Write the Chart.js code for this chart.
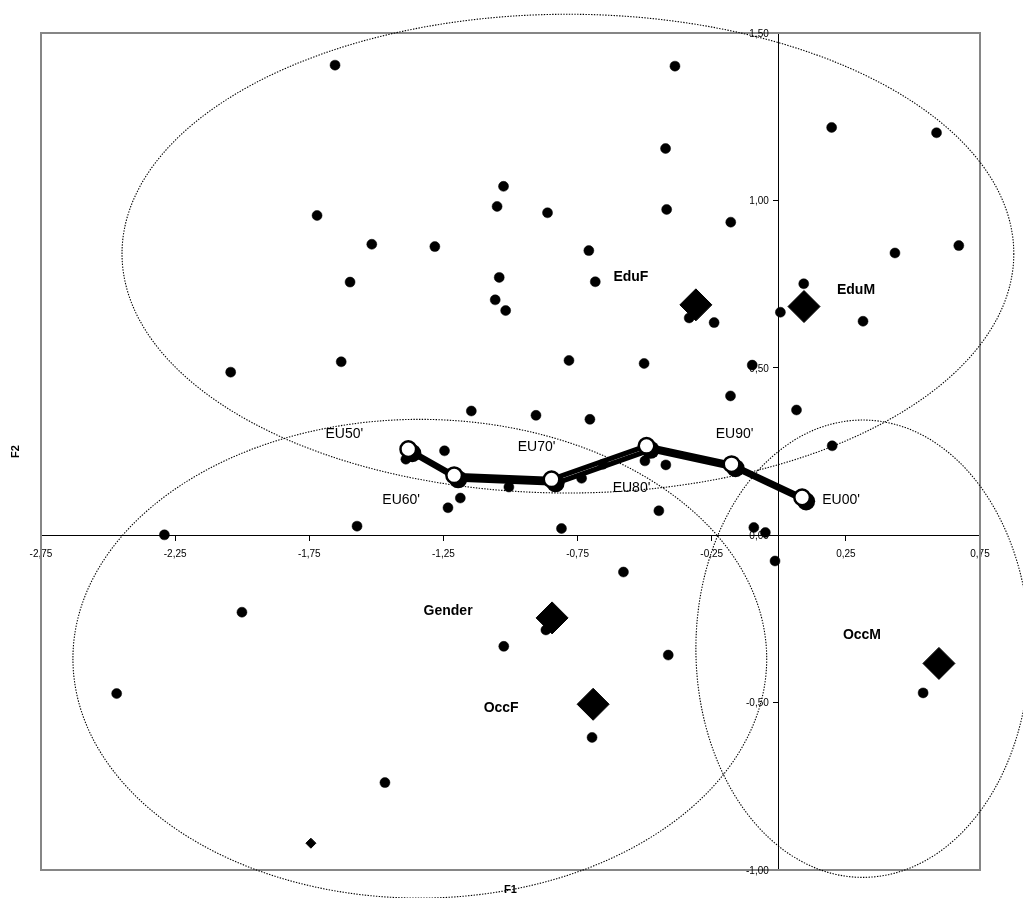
<!DOCTYPE html>
<html><head><meta charset="utf-8">
<script src="https://cdn.jsdelivr.net/npm/chart.js@4.4.0/dist/chart.umd.min.js"></script>
<style>html,body{margin:0;padding:0;background:#fff;overflow:hidden}canvas{display:block}</style>
</head><body>
<canvas id="c" width="1023" height="898"></canvas>
<script>
// ---- tick values ----
const xTicks = [-2.75, -2.25, -1.75, -1.25, -0.75, -0.25, 0.25, 0.75];
const yTicks = [-1.00, -0.50, 0.00, 0.50, 1.00, 1.50];
const xTitle = 'F1';
const yTitle = 'F2';

// ---- small points (individual observations) ----
const dotX = [-1.654,-1.026,-1.050,-1.721,-1.517,-1.282,-1.598,-1.042,-0.387,-0.422,
              -0.862,-0.418,-0.179,-0.708,-0.684, 0.197, 0.588, 0.433, 0.671, 0.093,
              -1.018,-1.057,-0.334,-0.241, 0.006, 0.314,-0.782,-0.502,-0.099,-0.180,
               0.066,-0.905,-0.704, 0.199,-0.499,-0.421,-0.655,-0.735,-1.006,-0.447,
              -0.810,-0.093,-0.050,-1.631,-2.043,-1.146,-1.246,-1.390,-1.187,-1.233,
              -1.572,-2.290,-2.001,-1.025,-2.468,-1.468,-0.579,-0.014,-0.868,-0.412,
              -0.696, 0.538];
const dotY = [ 1.404, 1.042, 0.982, 0.955, 0.869, 0.862, 0.756, 0.770, 1.401, 1.155,
               0.963, 0.973, 0.935, 0.850, 0.757, 1.218, 1.202, 0.843, 0.865, 0.751,
               0.671, 0.703, 0.649, 0.635, 0.666, 0.639, 0.522, 0.513, 0.508, 0.416,
               0.374, 0.358, 0.346, 0.267, 0.222, 0.210, 0.212, 0.170, 0.144, 0.073,
               0.020, 0.023, 0.008, 0.518, 0.487, 0.371, 0.252, 0.227, 0.111, 0.082,
               0.027, 0.001,-0.230,-0.332,-0.473,-0.739,-0.110,-0.077,-0.283,-0.358,
              -0.604,-0.471];

// ---- small diamond ----
const smallDiamondX = [-1.744];
const smallDiamondY = [-0.920];

// ---- EU path ----
const pathLabels = ["EU50'", "EU60'", "EU70'", "EU80'", "EU90'", "EU00'"];
const pathX = [-1.381, -1.210, -0.847, -0.493, -0.176, 0.087];
const pathY = [ 0.257,  0.179,  0.167,  0.267,  0.212, 0.113];

// ---- category centroids ----
const catLabels = ['EduF', 'EduM', 'Gender', 'OccF', 'OccM'];
const catX = [-0.309, 0.094, -0.845, -0.692, 0.597];
const catY = [ 0.688, 0.683, -0.247, -0.505, -0.383];

// ---- confidence ellipses (data units) ----
const ellCX = [-0.786, -1.338, 0.313];
const ellCY = [ 0.841, -0.369, -0.339];
const ellRX = [ 1.662,  1.293, 0.622];
const ellRY = [ 0.715,  0.715, 0.683];

// label placement (pixel offsets from the marker), style only
const pathLabelOffsets = [[-64,-15],[-53,25],[-15,-32],[-15,42],[3,-30],[39,3]];
const catLabelOffsets = [[-65,-28],[52,-16],[-104,-7],[-92,4],[-77,-28]];
const SHADOW_DX = 4, SHADOW_DY = 4;

const zip = (xs, ys) => xs.map((x, i) => ({x: x, y: ys[i]}));
const fmt = v => (Math.abs(v) < 1e-9 ? 0 : v).toFixed(2).replace('.', ',');

Chart.defaults.font.family = "'Liberation Sans', Arial, sans-serif";
Chart.defaults.color = '#000';

const framePlugin = {
  id: 'frame',
  beforeDatasetsDraw(chart) {
    const {ctx, chartArea: a, scales: {x, y}} = chart;
    ctx.save();
    ctx.strokeStyle = '#868686';
    ctx.lineWidth = 2;
    ctx.strokeRect(a.left, a.top, a.right - a.left, a.bottom - a.top);
    // y tick labels (left of the crossing axis)
    const ax = x.getPixelForValue(0);
    ctx.fillStyle = '#000';
    ctx.font = "10px 'Liberation Sans', Arial, sans-serif";
    ctx.textAlign = 'right';
    ctx.textBaseline = 'middle';
    yTicks.forEach(v => ctx.fillText(fmt(v), ax - 10, y.getPixelForValue(v) + 1));
    // ellipses
    ctx.strokeStyle = '#000';
    ctx.lineWidth = 1.1;
    ctx.setLineDash([1.4, 1.4]);
    for (let i = 0; i < ellCX.length; i++) {
      const cx = x.getPixelForValue(ellCX[i]);
      const cy = y.getPixelForValue(ellCY[i]);
      const rx = Math.abs(x.getPixelForValue(ellCX[i] + ellRX[i]) - cx);
      const ry = Math.abs(y.getPixelForValue(ellCY[i] + ellRY[i]) - cy);
      ctx.beginPath();
      ctx.ellipse(cx, cy, rx, ry, 0, 0, Math.PI * 2);
      ctx.stroke();
    }
    ctx.restore();
  },
  beforeDatasetDraw(chart, args) {
    if (args.index !== 0) return;
    // drop shadow of the EU path, using the library's computed point positions
    const ctx = chart.ctx;
    const pts = chart.getDatasetMeta(0).data;
    const ds = chart.data.datasets[0];
    ctx.save();
    ctx.translate(SHADOW_DX, SHADOW_DY);
    ctx.strokeStyle = '#000';
    ctx.fillStyle = '#000';
    ctx.lineWidth = ds.borderWidth;
    ctx.lineJoin = 'round';
    ctx.beginPath();
    pts.forEach((p, i) => i ? ctx.lineTo(p.x, p.y) : ctx.moveTo(p.x, p.y));
    ctx.stroke();
    pts.forEach(p => {
      ctx.beginPath();
      ctx.arc(p.x, p.y, ds.pointRadius + ds.pointBorderWidth / 2, 0, Math.PI * 2);
      ctx.fill();
    });
    ctx.restore();
  },
  afterDatasetsDraw(chart) {
    const {ctx, chartArea: a} = chart;
    ctx.save();
    ctx.fillStyle = '#000';
    ctx.textAlign = 'center';
    ctx.textBaseline = 'middle';
    ctx.font = "14px 'Liberation Sans', Arial, sans-serif";
    const pm = chart.getDatasetMeta(0).data;
    pathLabels.forEach((t, i) => {
      const o = pathLabelOffsets[i];
      ctx.fillText(t, pm[i].x + o[0], pm[i].y + o[1]);
    });
    ctx.font = "bold 14px 'Liberation Sans', Arial, sans-serif";
    const cm = chart.getDatasetMeta(1).data;
    catLabels.forEach((t, i) => {
      const o = catLabelOffsets[i];
      ctx.fillText(t, cm[i].x + o[0], cm[i].y + o[1]);
    });
    // axis titles
    ctx.font = "bold 11px 'Liberation Sans', Arial, sans-serif";
    ctx.fillText(xTitle, (a.left + a.right) / 2, a.bottom + 20);
    ctx.translate(16, (a.top + a.bottom) / 2);
    ctx.rotate(-Math.PI / 2);
    ctx.fillText(yTitle, 0, 0);
    ctx.restore();
  }
};

new Chart(document.getElementById('c'), {
  type: 'scatter',
  data: {
    datasets: [
      {
        label: 'EU',
        data: zip(pathX, pathY),
        showLine: true,
        borderColor: '#000',
        borderWidth: 5,
        pointRadius: 7.8,
        pointBorderWidth: 2.5,
        pointBackgroundColor: '#fff',
        pointBorderColor: '#000',
        clip: false
      },
      {
        label: 'Categories',
        data: zip(catX, catY),
        pointStyle: 'rectRot',
        pointRadius: 16,
        backgroundColor: '#000',
        borderColor: '#000',
        borderWidth: 1,
        clip: false
      },
      {
        label: 'Small',
        data: zip(smallDiamondX, smallDiamondY),
        pointStyle: 'rectRot',
        pointRadius: 5,
        backgroundColor: '#000',
        borderColor: '#000',
        borderWidth: 1,
        clip: false
      },
      {
        label: 'Obs',
        data: zip(dotX, dotY),
        pointRadius: 5,
        backgroundColor: '#000',
        borderColor: '#000',
        borderWidth: 0.5,
        clip: false
      }
    ]
  },
  options: {
    responsive: false,
    animation: false,
    events: [],
    layout: {padding: {left: 41, top: 33, right: 43, bottom: 28}},
    plugins: {legend: {display: false}, tooltip: {enabled: false}},
    scales: {
      x: {
        type: 'linear',
        min: xTicks[0], max: xTicks[xTicks.length - 1],
        position: {y: 0},
        afterBuildTicks: s => { s.ticks = xTicks.map(v => ({value: v})); },
        ticks: {callback: v => fmt(v), font: {size: 10}, padding: 8, color: '#000', maxRotation: 0, autoSkip: false},
        grid: {drawOnChartArea: false, drawTicks: true, tickLength: 5, color: '#000', lineWidth: 1},
        border: {display: true, color: '#000', width: 1}
      },
      y: {
        type: 'linear',
        min: yTicks[0], max: yTicks[yTicks.length - 1],
        position: {x: 0},
        afterBuildTicks: s => { s.ticks = yTicks.map(v => ({value: v})); },
        ticks: {display: false},
        grid: {drawOnChartArea: false, drawTicks: true, tickLength: 5, color: '#000', lineWidth: 1},
        border: {display: true, color: '#000', width: 1}
      }
    }
  },
  plugins: [framePlugin]
});
</script>
</body></html>
